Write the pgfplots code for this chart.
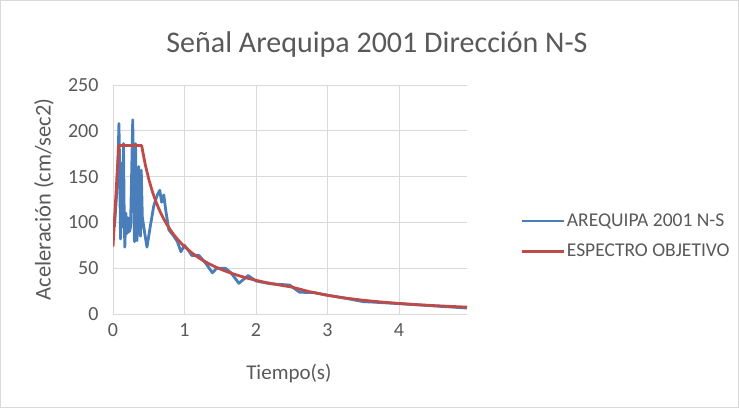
\documentclass[border=0pt]{standalone}
\usepackage{pgfplots}
\pgfplotsset{compat=1.18}
\usepackage{fontspec}
\setmainfont{Carlito}
\definecolor{txtgray}{HTML}{595959}
\definecolor{gridgray}{HTML}{D9D9D9}
\definecolor{xlblue}{HTML}{4A7EBB}
\definecolor{xlred}{HTML}{BE4B48}
\begin{document}
\begin{tikzpicture}[x=1pt,y=1pt]
\useasboundingbox (0,0) rectangle (739,408);
\draw[gridgray, line width=0.8pt] (0.5,0.5) rectangle (738.5,407.5);
\node[txtgray, font=\fontsize{30}{36}\selectfont] at (377,363) {Señal Arequipa 2001 Dirección N-S};
\begin{axis}[
  at={(113pt,94pt)}, anchor=south west,
  scale only axis, width=354pt, height=229pt,
  xmin=0, xmax=4.95, ymin=0, ymax=250,
  xtick={0,1,2,3,4}, ytick={0,50,100,150,200,250},
  grid=major,
  major grid style={gridgray, line width=0.9pt},
  axis line style={draw=none},
  major tick length=0pt,
  /pgf/number format/assume math mode=true,
  tick label style={txtgray, font=\fontsize{20}{24}\selectfont},
  xticklabel style={yshift=-6pt},
  yticklabel style={xshift=-11pt},
  xlabel={Tiempo(s)}, ylabel={Aceleración (cm/sec2)},
  label style={txtgray},
  xlabel style={at={(rel axis cs:0.497,-0.258)}, anchor=center, font=\fontsize{21}{25}\selectfont},
  ylabel style={at={(rel axis cs:-0.195,0.5)}, anchor=center, font=\fontsize{22.5}{26}\selectfont},
  legend style={draw=none, fill=none, at={(1.141,0.34)}, anchor=west,
    font=\fontsize{19.5}{23}\selectfont, text=txtgray, row sep=12pt,
    cells={anchor=west}},
  legend cell align=left,
  legend image code/.code={\draw[#1] (0pt,0pt) -- (42pt,0pt);},
]
\addplot[xlblue, line width=2.8pt, line join=round] coordinates {
(0.02,95) (0.05,130) (0.07,165) (0.083,208) (0.095,150) (0.105,82)
(0.115,120) (0.125,165) (0.135,95) (0.147,186) (0.155,120) (0.165,73)
(0.18,110) (0.19,100) (0.2,88) (0.215,105) (0.23,90) (0.245,95)
(0.26,150) (0.276,212) (0.29,120) (0.30,79) (0.315,186) (0.325,130)
(0.335,80) (0.35,110) (0.36,161) (0.37,95) (0.385,85) (0.395,157)
(0.41,106) (0.44,90) (0.475,73) (0.52,95) (0.57,118) (0.62,130)
(0.654,135) (0.68,122) (0.71,130) (0.74,112) (0.78,92) (0.85,85)
(0.9,79) (0.95,68) (1.0,75) (1.05,70) (1.1,64) (1.2,64) (1.3,55)
(1.39,45) (1.45,50) (1.57,50) (1.65,45) (1.76,33.5) (1.89,42)
(2.0,36) (2.2,33) (2.47,31.6) (2.61,23.7) (2.8,23.5) (3.0,20.5)
(3.3,16.5) (3.5,13.5) (3.63,13) (4.0,11.3) (4.5,8.8) (4.95,6.5)
};
\addlegendentry{AREQUIPA 2001 N-S}
\addplot[xlred, line width=2.8pt, line join=round] coordinates {
(0,73.6) (0.08,184) (0.4,184) (0.45,163.6) (0.5,147.2) (0.55,133.8)
(0.6,122.7) (0.65,113.2) (0.7,105.1) (0.75,98.1) (0.8,92) (0.85,86.6)
(0.9,81.8) (0.95,77.5) (1.0,73.6) (1.1,66.9) (1.2,61.3) (1.3,56.6)
(1.4,52.6) (1.5,49.1) (1.6,46) (1.7,43.3) (1.8,40.9) (1.9,38.7)
(2.0,36.8) (2.1,35.0) (2.2,33.5) (2.3,32.0) (2.4,30.7) (2.5,29.4)
(2.75,24.3) (3.0,20.4) (3.25,17.4) (3.5,15.0) (3.75,13.1) (4.0,11.5)
(4.25,10.2) (4.5,9.1) (4.75,8.2) (4.95,7.5)
};
\addlegendentry{ESPECTRO OBJETIVO}
\end{axis}
\end{tikzpicture}
\end{document}
